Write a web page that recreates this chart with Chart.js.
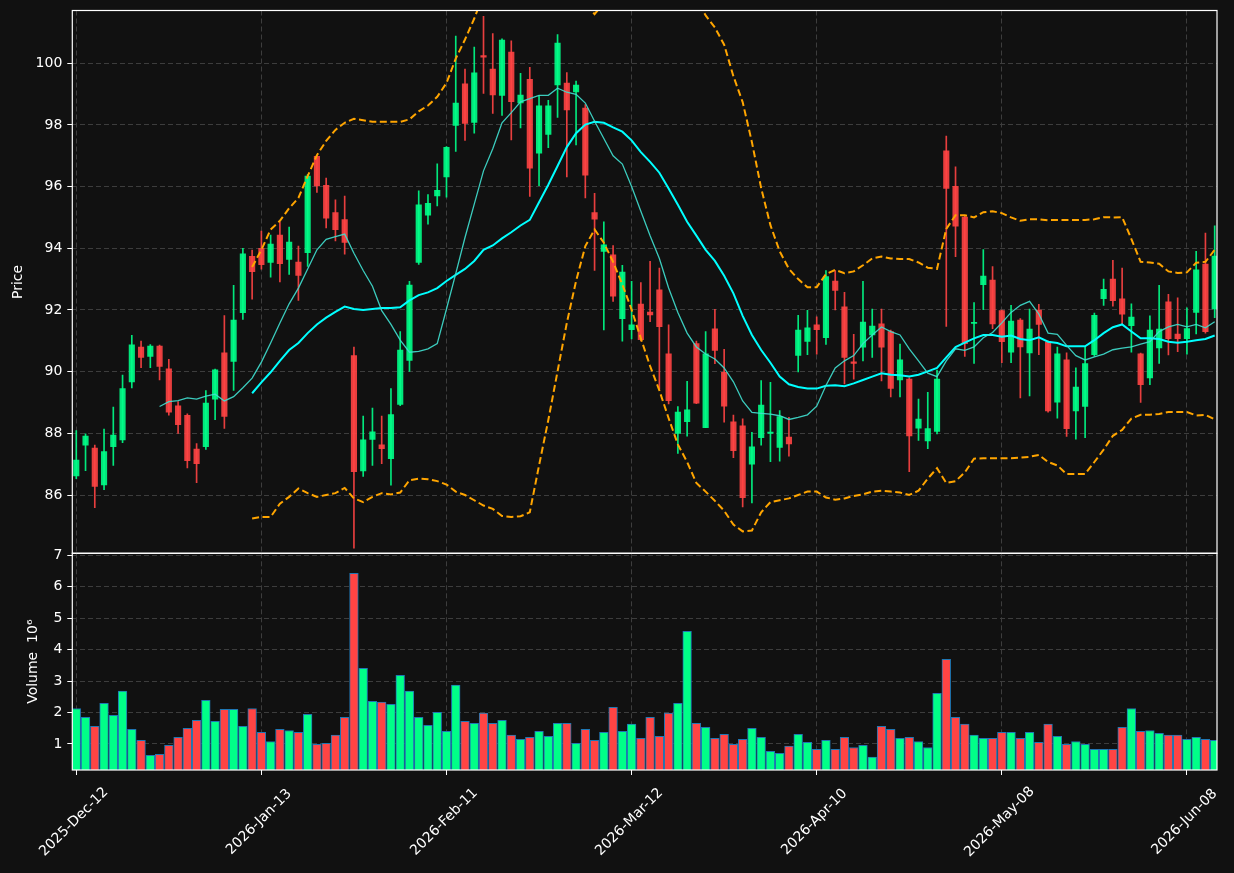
<!DOCTYPE html>
<html>
<head>
<meta charset="utf-8">
<script src="https://cdn.jsdelivr.net/npm/chart.js@4/dist/chart.umd.min.js"></script>
<style>
html,body{margin:0;padding:0;background:#111111;}
#wrap{position:relative;width:1234px;height:873px;overflow:hidden;}
canvas{position:absolute;left:0;top:0;}
</style>
</head>
<body>
<div id="wrap">
<canvas id="price" width="1234" height="873"></canvas>
<canvas id="vol" width="1234" height="873"></canvas>
</div>
<script>
// ---------- data (trading-day index 0..123) ----------
const opens = [86.62,87.62,87.52,86.33,87.57,87.79,89.67,90.80,90.49,90.83,
90.09,88.89,88.58,87.49,87.57,89.11,90.61,90.33,91.91,93.74,
94.00,93.54,94.43,93.64,93.55,93.86,96.98,96.04,95.16,94.93,
90.52,86.78,87.80,87.63,87.18,88.94,90.36,93.54,95.07,95.70,
96.31,97.98,99.33,98.08,100.25,99.81,98.96,100.36,98.71,99.48,
97.08,97.69,99.30,99.36,99.07,98.55,95.16,93.90,93.79,91.72,
91.36,92.19,91.93,92.65,90.58,88.00,88.38,90.91,88.18,91.39,
89.98,88.37,88.24,87.00,87.86,88.00,87.54,87.88,90.53,90.98,
91.52,91.10,92.94,92.10,90.32,90.79,91.19,91.55,91.30,89.73,
89.76,88.17,87.75,88.06,97.16,96.01,95.01,91.56,92.82,92.97,
91.98,90.63,91.67,90.61,92.00,90.97,89.01,90.38,88.73,88.87,
90.55,92.37,93.00,92.36,91.49,90.58,89.80,90.77,92.26,91.22,
91.07,91.92,93.49,92.03];
const highs = [88.09,87.98,87.62,88.14,88.85,89.89,91.18,90.99,90.88,90.86,
90.40,89.03,88.63,87.67,89.39,90.08,91.82,92.80,94.00,93.94,
94.56,94.43,94.85,94.69,94.07,96.40,97.00,96.28,95.57,95.69,
90.80,88.56,88.82,88.56,89.45,91.30,92.93,95.86,95.74,96.74,
97.30,100.88,99.81,100.52,101.52,100.96,100.79,100.73,99.67,99.87,
98.94,98.80,100.93,99.70,99.42,98.66,95.78,94.86,94.09,93.45,
92.93,92.89,93.58,93.36,91.52,88.87,89.69,90.99,91.30,92.02,
90.72,88.59,88.47,88.03,89.71,89.65,88.74,88.52,91.83,91.99,
91.78,93.28,93.28,92.57,91.21,92.93,92.03,92.03,91.35,90.89,
89.80,89.11,89.33,90.05,97.64,96.64,95.05,92.24,93.96,93.41,
92.00,92.15,91.72,92.03,92.18,91.00,90.80,90.61,90.12,90.82,
91.90,93.00,93.61,93.36,92.20,90.60,91.81,92.80,92.51,92.39,
92.07,93.90,94.49,94.73];
const lows = [86.53,86.79,85.59,86.17,86.96,87.70,89.47,90.13,90.13,89.73,
88.59,88.00,86.88,86.40,87.48,88.44,88.16,89.39,91.69,92.35,
93.32,93.06,92.91,93.15,92.31,93.41,95.81,94.66,94.24,93.81,
84.28,86.60,86.96,87.02,86.32,88.90,90.01,93.48,94.78,95.37,
95.66,97.14,97.50,97.73,99.02,98.37,98.31,97.51,97.90,95.68,
96.03,97.26,98.24,96.31,97.35,95.63,93.28,91.35,92.28,90.99,
91.06,91.00,91.62,89.45,88.95,87.35,87.91,88.96,88.18,90.26,
88.36,87.21,85.61,85.74,87.62,87.08,87.10,87.26,89.99,90.55,
90.57,90.88,92.00,89.60,89.76,90.35,90.46,89.70,89.18,89.18,
86.76,87.77,87.50,87.98,91.47,93.73,90.49,90.27,92.01,91.39,
90.29,90.29,89.15,89.21,90.55,88.69,88.49,87.90,87.81,87.86,
90.50,92.15,92.12,91.53,90.63,89.00,89.58,90.27,90.54,90.65,
90.57,91.22,91.25,91.75];
const closes = [87.13,87.91,86.28,87.41,87.94,89.45,90.87,90.46,90.83,90.17,
88.69,88.28,87.11,87.02,88.98,90.06,88.55,91.67,93.82,93.24,
93.47,94.14,93.50,94.20,93.12,96.34,96.02,94.98,94.60,94.19,
86.76,87.79,88.05,87.50,88.61,90.70,92.81,95.41,95.46,95.88,
97.27,98.71,98.05,99.69,100.20,98.97,100.75,98.75,98.97,96.60,
98.62,98.62,100.65,98.49,99.29,96.37,94.94,94.11,92.45,93.23,
91.52,91.04,91.84,91.46,89.06,88.69,88.76,88.98,90.58,90.69,
88.88,87.44,85.91,87.56,88.92,88.04,88.54,87.66,91.35,91.42,
91.36,93.08,92.63,90.46,90.27,91.61,91.48,90.79,89.46,90.38,
87.92,88.46,88.15,89.76,95.94,94.72,90.91,91.60,93.10,91.55,
90.97,91.64,90.80,91.38,91.53,88.73,90.58,88.15,89.50,90.26,
91.83,92.67,92.30,91.86,91.77,89.58,91.35,91.38,91.07,91.07,
91.40,93.30,91.30,93.75];
// volume in millions
const volumes = [2.13,1.85,1.56,2.29,1.91,2.68,1.47,1.12,0.64,0.67,
0.96,1.21,1.50,1.75,2.39,1.72,2.10,2.10,1.56,2.13,
1.37,1.08,1.47,1.43,1.37,1.94,0.99,1.02,1.28,1.85,
6.43,3.41,2.36,2.33,2.26,3.18,2.68,1.85,1.59,2.01,
1.40,2.87,1.72,1.66,1.98,1.66,1.75,1.28,1.15,1.21,
1.40,1.24,1.66,1.66,1.02,1.47,1.12,1.37,2.17,1.40,
1.63,1.18,1.85,1.24,1.98,2.29,4.58,1.66,1.53,1.18,
1.31,0.99,1.15,1.50,1.21,0.77,0.70,0.93,1.31,1.05,
0.83,1.12,0.83,1.21,0.89,0.96,0.58,1.56,1.47,1.18,
1.21,1.08,0.89,2.61,3.69,1.85,1.63,1.28,1.18,1.18,
1.37,1.37,1.18,1.37,1.05,1.63,1.24,0.99,1.08,0.99,
0.83,0.83,0.83,1.53,2.13,1.40,1.43,1.34,1.28,1.28,
1.15,1.21,1.15,1.12];
// moving averages / bands (null = not drawn)
const ma10 = [null,null,null,null,null,null,null,null,null,88.87,
89.03,89.06,89.15,89.11,89.21,89.27,89.05,89.19,89.48,89.79,
90.31,90.93,91.58,92.20,92.71,93.33,93.95,94.29,94.38,94.46,
93.84,93.28,92.77,91.98,91.53,91.02,90.63,90.66,90.74,90.91,
92.03,93.18,94.35,95.43,96.51,97.23,98.07,98.40,98.75,98.85,
98.96,98.96,99.19,99.06,98.99,98.71,98.12,97.56,97.00,96.73,
96.00,95.20,94.41,93.67,92.71,91.92,91.25,90.80,90.57,90.41,
90.12,89.67,89.05,88.68,88.65,88.62,88.57,88.45,88.52,88.60,
88.88,89.55,90.12,90.35,90.52,90.91,91.19,91.45,91.30,91.19,
90.74,90.35,89.95,89.84,90.35,90.74,90.69,90.80,91.10,91.27,
91.58,91.92,92.15,92.28,91.87,91.25,91.21,90.85,90.52,90.38,
90.48,90.57,90.71,90.76,90.80,90.89,90.97,91.30,91.45,91.53,
91.45,91.53,91.42,91.62];
const ma20 = [null,null,null,null,null,null,null,null,null,null,
null,null,null,null,null,null,null,null,null,89.30,
89.65,89.98,90.35,90.70,90.93,91.25,91.53,91.75,91.94,92.11,
92.03,92.00,92.03,92.06,92.06,92.09,92.31,92.48,92.57,92.71,
92.94,93.14,93.33,93.59,93.95,94.09,94.32,94.52,94.74,94.92,
95.49,96.06,96.67,97.28,97.73,98.01,98.10,98.07,97.92,97.78,
97.50,97.12,96.80,96.45,95.94,95.41,94.86,94.41,93.95,93.59,
93.11,92.54,91.81,91.19,90.70,90.29,89.84,89.59,89.50,89.45,
89.45,89.54,89.56,89.53,89.62,89.73,89.84,89.95,89.90,89.88,
89.84,89.90,90.01,90.12,90.46,90.80,90.94,91.08,91.19,91.19,
91.13,91.17,91.06,91.02,91.11,90.97,90.93,90.82,90.82,90.82,
91.02,91.25,91.44,91.53,91.30,91.08,91.08,91.06,90.97,90.94,
90.97,91.02,91.06,91.17];
const bbUpper = [null,null,null,null,null,null,null,null,null,null,
null,null,null,null,null,null,null,null,null,93.39,
93.95,94.61,94.89,95.30,95.63,96.34,97.02,97.48,97.84,98.07,
98.20,98.15,98.10,98.10,98.10,98.10,98.18,98.44,98.63,98.91,
99.36,100.15,100.77,101.45,102.24,102.63,103.32,103.75,104.17,104.40,
104.02,103.69,103.33,102.98,102.52,101.95,101.59,101.96,102.28,102.73,
102.99,103.16,103.42,103.51,103.39,103.18,102.65,102.10,101.55,101.16,
100.60,99.58,98.74,97.44,95.95,94.75,93.90,93.33,93.00,92.74,
92.74,93.16,93.30,93.19,93.25,93.45,93.67,93.73,93.67,93.65,
93.65,93.54,93.37,93.33,94.63,95.07,95.07,95.00,95.17,95.20,
95.14,95.00,94.89,94.94,94.94,94.91,94.92,94.92,94.92,94.92,
94.94,95.01,95.00,95.01,94.30,93.56,93.54,93.50,93.25,93.20,
93.22,93.53,93.56,93.95];
const bbLower = [null,null,null,null,null,null,null,null,null,null,
null,null,null,null,null,null,null,null,null,85.24,
85.29,85.29,85.72,85.94,86.21,86.06,85.94,86.00,86.06,86.23,
85.89,85.77,85.94,86.06,86.02,86.08,86.48,86.53,86.51,86.45,
86.34,86.11,86.00,85.83,85.66,85.55,85.32,85.29,85.31,85.44,
86.96,88.43,90.01,91.58,92.94,94.07,94.61,94.18,93.56,92.83,
92.01,91.08,90.18,89.39,88.49,87.64,87.07,86.39,86.11,85.81,
85.49,85.04,84.82,84.85,85.44,85.77,85.83,85.89,86.00,86.11,
86.11,85.92,85.85,85.89,85.97,86.02,86.11,86.14,86.11,86.08,
86.00,86.14,86.53,86.87,86.39,86.45,86.73,87.18,87.19,87.19,
87.19,87.19,87.21,87.24,87.30,87.07,86.96,86.68,86.68,86.68,
87.07,87.47,87.92,88.11,88.48,88.60,88.60,88.63,88.69,88.69,
88.69,88.58,88.60,88.45];
// x tick labels
const xTickIdx = [0,20,40,60,80,100,120];
const xTickLabels = ['2025-Dec-12','2026-Jan-13','2026-Feb-11','2026-Mar-12','2026-Apr-10','2026-May-08','2026-Jun-08'];
const priceTicks = [86,88,90,92,94,96,98,100];
const volTicks = [1,2,3,4,5,6,7];

// ---------- styling ----------
const W = 1234, H = 873;
const AREA_LEFT = 72.3, AREA_RIGHT = 1217, PRICE_TOP = 10.5, SPLIT = 553.3, VOL_BOTTOM = 770;
const X_MIN = -0.43, X_MAX = 123.25;
const UP = '#00ff88', DOWN = '#ff4444';
const UP_C = 'rgba(0,255,136,0.9)', DOWN_C = 'rgba(255,68,68,0.9)';
const GRID = '#3d3d3d';
const TXT = '#ffffff';
const FONT = '"DejaVu Sans", sans-serif';
Chart.defaults.font.family = FONT;
Chart.defaults.font.size = 14;
Chart.defaults.color = TXT;

const candleColors = closes.map((c, i) => c >= opens[i] ? UP_C : DOWN_C);
const volColors = closes.map((c, i) => c >= opens[i] ? UP : DOWN);
const pts = arr => arr.map((v, i) => ({x: i, y: v}));

const framePlugin = {
  id: 'frame',
  afterDatasetsDraw(chart) {
    const a = chart.chartArea, ctx = chart.ctx;
    ctx.save();
    ctx.strokeStyle = '#ffffff';
    ctx.lineWidth = 1.2;
    ctx.strokeRect(a.left, a.top, a.right - a.left, a.bottom - a.top);
    ctx.restore();
  }
};
const xLabelPlugin = {
  id: 'xlabels',
  afterDraw(chart) {
    const sx = chart.scales.x, ctx = chart.ctx;
    ctx.save();
    ctx.fillStyle = TXT;
    ctx.font = '14px ' + FONT;
    ctx.textAlign = 'center';
    ctx.textBaseline = 'middle';
    xTickIdx.forEach((v, k) => {
      const px = sx.getPixelForValue(v);
      ctx.save();
      ctx.translate(px - 2.3, 822);
      ctx.rotate(-Math.PI / 4);
      ctx.fillText(xTickLabels[k], 0, 0);
      ctx.restore();
    });
    ctx.restore();
  }
};

const xScale = (showTicks, height) => ({
  type: 'linear', min: X_MIN, max: X_MAX, offset: false,
  afterBuildTicks: s => { s.ticks = xTickIdx.map(v => ({value: v})); },
  ticks: {display: false},
  grid: {color: GRID, lineWidth: 1, offset: false, drawTicks: showTicks, tickColor: '#ffffff', tickLength: 5, tickWidth: 1},
  border: {display: false, dash: [5, 3]},
  afterFit: s => { s.height = height; s.paddingLeft = 0; s.paddingRight = 0; }
});
const yScale = (min, max, tickVals, title, titlePad) => ({
  type: 'linear', min: min, max: max, beginAtZero: false,
  afterBuildTicks: s => { s.ticks = tickVals.map(v => ({value: v})); },
  ticks: {color: TXT, padding: 5, font: {size: 14, family: FONT}},
  grid: {color: GRID, lineWidth: 1, tickColor: '#ffffff', tickLength: 5, tickWidth: 1},
  border: {display: false, dash: [5, 3]},
  title: {display: true, text: title, color: TXT, font: {size: 14, family: FONT}, padding: {top: titlePad, bottom: 0}},
  afterFit: s => { s.width = AREA_LEFT; s.paddingTop = 0; s.paddingBottom = 0; }
});

new Chart(document.getElementById('price'), {
  type: 'bar',
  data: {
    datasets: [
      {type: 'line', label: 'MA10', data: pts(ma10), borderColor: 'rgba(64,224,208,0.9)', borderWidth: 1.3, pointRadius: 0, tension: 0, order: 0},
      {type: 'line', label: 'MA20', data: pts(ma20), borderColor: '#00ffff', borderWidth: 2, pointRadius: 0, tension: 0, order: 0},
      {type: 'line', label: 'Upper band', data: pts(bbUpper), borderColor: '#ffa500', borderWidth: 2, borderDash: [7, 3.5], pointRadius: 0, tension: 0, order: 0},
      {type: 'line', label: 'Lower band', data: pts(bbLower), borderColor: '#ffa500', borderWidth: 2, borderDash: [7, 3.5], pointRadius: 0, tension: 0, order: 0},
      {type: 'bar', label: 'Body', data: opens.map((o, i) => ({x: i, y: [o, closes[i]]})), backgroundColor: candleColors, barThickness: 5.5, minBarLength: 1, grouped: false, order: 1},
      {type: 'bar', label: 'Wick', data: lows.map((l, i) => ({x: i, y: [l, highs[i]]})), backgroundColor: candleColors, barThickness: 1, grouped: false, order: 2}
    ]
  },
  options: {
    responsive: false, animation: false, devicePixelRatio: 1,
    layout: {padding: {left: 0, top: PRICE_TOP, right: W - AREA_RIGHT, bottom: H - SPLIT}},
    plugins: {legend: {display: false}, tooltip: {enabled: false}},
    scales: {
      x: xScale(false, 0),
      y: yScale(84.11, 101.71, priceTicks, 'Price', 10)
    }
  },
  plugins: [framePlugin]
});

new Chart(document.getElementById('vol'), {
  type: 'bar',
  data: {
    datasets: [
      {label: 'Volume', data: pts(volumes), backgroundColor: volColors, borderColor: '#1f77b4', borderWidth: 1, borderSkipped: false, barThickness: 8.7, grouped: false}
    ]
  },
  options: {
    responsive: false, animation: false, devicePixelRatio: 1,
    layout: {padding: {left: 0, top: SPLIT, right: W - AREA_RIGHT, bottom: 0}},
    plugins: {legend: {display: false}, tooltip: {enabled: false}},
    scales: {
      x: xScale(true, H - VOL_BOTTOM),
      y: yScale(0.173, 7.065, volTicks, 'Volume  10\u2076', 25)
    }
  },
  plugins: [framePlugin, xLabelPlugin]
});
</script>
</body>
</html>
